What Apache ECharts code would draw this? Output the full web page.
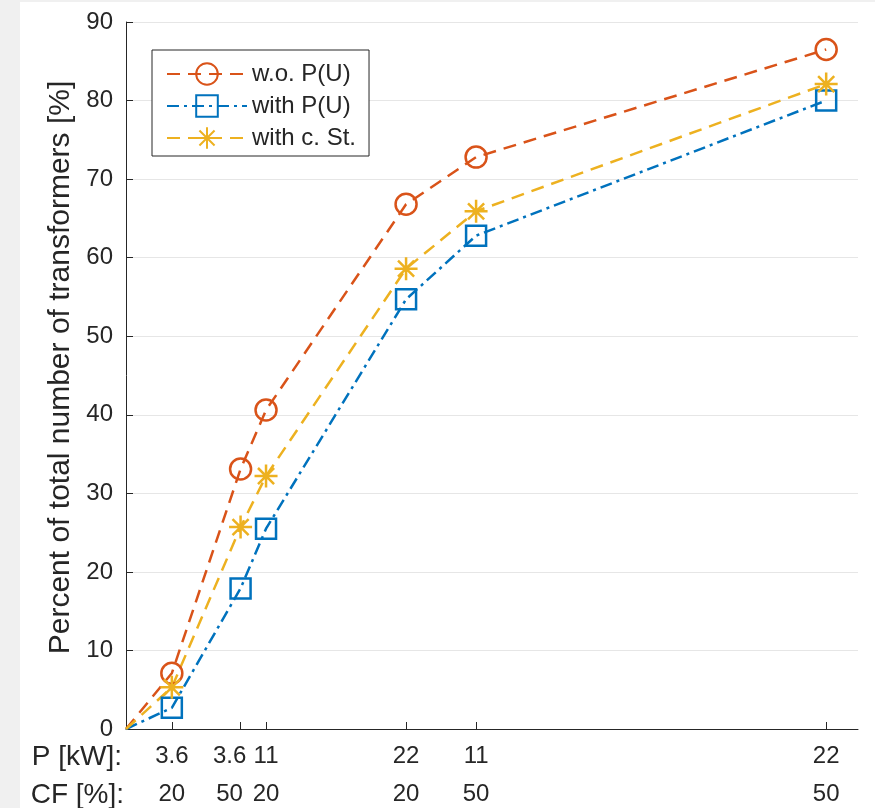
<!DOCTYPE html>
<html lang="en">
<head>
    <meta charset="UTF-8">
    <title>Transformers</title>
    <script src="https://cdn.jsdelivr.net/npm/echarts@6/dist/echarts.min.js"></script>
    <style>
        html, body { margin: 0; padding: 0; background: #f0f0f0; }
        #main { position: absolute; left: 20px; top: 2px; width: 855px; height: 806px; background: #fff; }
    </style>
</head>
<body>
<div id="main"></div>
<script>
    // x position of each point = P * CF
    var xPos = [0, 72, 180, 220, 440, 550, 1100];
    var pLabels = ['', '3.6', '3.6', '11', '22', '11', '22'];
    var cfLabels = ['', '20', '50', '20', '20', '50', '50'];
    var yTicks = [0, 10, 20, 30, 40, 50, 60, 70, 80, 90];

    var seriesNames = ['w.o. P(U)', 'with P(U)', 'with c. St.'];
    var woPU = [0, 7.1, 33.1, 40.6, 66.8, 72.8, 86.5];
    var withPU = [0, 2.7, 17.9, 25.5, 54.7, 62.8, 80.0];
    var withCSt = [0, 5.3, 25.7, 32.2, 58.6, 65.9, 82.1];

    var colors = ['#D95319', '#0072BD', '#EDB120'];
    var txt = '#262626';
    var font = 'Liberation Sans, Arial, sans-serif';

    function toPoints(vals) {
        var out = [];
        for (var i = 0; i < vals.length; i++) {
            if (i === 0) out.push({value: [xPos[i], vals[i]], symbol: 'none'});
            else out.push([xPos[i], vals[i]]);
        }
        return out;
    }

    var star = 'path://M0,10L20,10M10,0L10,20M3,3L17,17M17,3L3,17';

    var myChart = echarts.init(document.getElementById('main'));
    var option = {
        animation: false,
        color: colors,
        textStyle: {fontFamily: font},
        grid: {left: 106, right: 17, top: 20, bottom: 79, containLabel: false, outerBoundsMode: 'none'},
        legend: {
            orient: 'vertical',
            left: 132, top: 48,
            backgroundColor: '#fff',
            borderColor: txt, borderWidth: 1, borderRadius: 0,
            padding: [12, 13, 6, 14],
            itemWidth: 80, itemHeight: 27, itemGap: 8,
            textStyle: {fontSize: 24, color: txt, fontFamily: font},
            data: seriesNames
        },
        xAxis: {
            type: 'value', min: 0, max: 1150,
            axisLine: {onZero: false, lineStyle: {color: txt, width: 1}},
            axisTick: {show: true, inside: true, length: 7, lineStyle: {color: txt},
                customValues: xPos.slice(1)},
            axisLabel: {
                customValues: xPos.slice(1),
                color: txt, fontSize: 24, lineHeight: 38, margin: 8,
                formatter: function (v) {
                    var i = xPos.indexOf(v);
                    if (v === 180) return '{s|' + pLabels[i] + '}\n{s|' + cfLabels[i] + '}';
                    return pLabels[i] + '\n' + cfLabels[i];
                },
                rich: {
                    s: {fontSize: 24, color: txt, lineHeight: 38, padding: [0, 22, 0, 0]}
                }
            },
            splitLine: {show: false}
        },
        yAxis: {
            type: 'value', min: 0, max: 90, interval: 10,
            name: 'Percent of total number of transformers [%]',
            nameLocation: 'middle', nameGap: 50,
            nameTextStyle: {fontSize: 30, color: txt, padding: [0, 0, 0, 16]},
            axisLine: {show: true, lineStyle: {color: txt, width: 1}},
            axisTick: {show: true, inside: true, length: 7, lineStyle: {color: txt}},
            axisLabel: {color: txt, fontSize: 24, margin: 13,
                customValues: yTicks},
            splitLine: {show: true, lineStyle: {color: '#e6e6e6', width: 1}}
        },
        graphic: [
            {type: 'text', right: 855 - 102, top: 741,
                style: {text: 'P [kW]:', fontSize: 28, fill: txt, fontFamily: font}},
            {type: 'text', right: 855 - 104, top: 779,
                style: {text: 'CF [%]:', fontSize: 28, fill: txt, fontFamily: font}}
        ],
        series: [
            {
                name: seriesNames[0], type: 'line', data: toPoints(woPU),
                symbol: 'circle', symbolSize: 21, showAllSymbol: true,
                lineStyle: {color: colors[0], width: 2.5, type: [13, 8]},
                itemStyle: {color: 'rgba(0,0,0,0)', borderColor: colors[0], borderWidth: 2.5}
            },
            {
                name: seriesNames[1], type: 'line', data: toPoints(withPU),
                symbol: 'rect', symbolSize: 20, showAllSymbol: true,
                lineStyle: {color: colors[1], width: 2.5, type: [12, 5, 3, 5]},
                itemStyle: {color: 'rgba(0,0,0,0)', borderColor: colors[1], borderWidth: 2.5}
            },
            {
                name: seriesNames[2], type: 'line', data: toPoints(withCSt),
                symbol: star, symbolSize: 23, showAllSymbol: true,
                lineStyle: {color: colors[2], width: 2.5, type: [13, 8]},
                itemStyle: {color: 'rgba(0,0,0,0)', borderColor: colors[2], borderWidth: 2.5}
            }
        ]
    };
    myChart.setOption(option);
</script>
</body>
</html>
